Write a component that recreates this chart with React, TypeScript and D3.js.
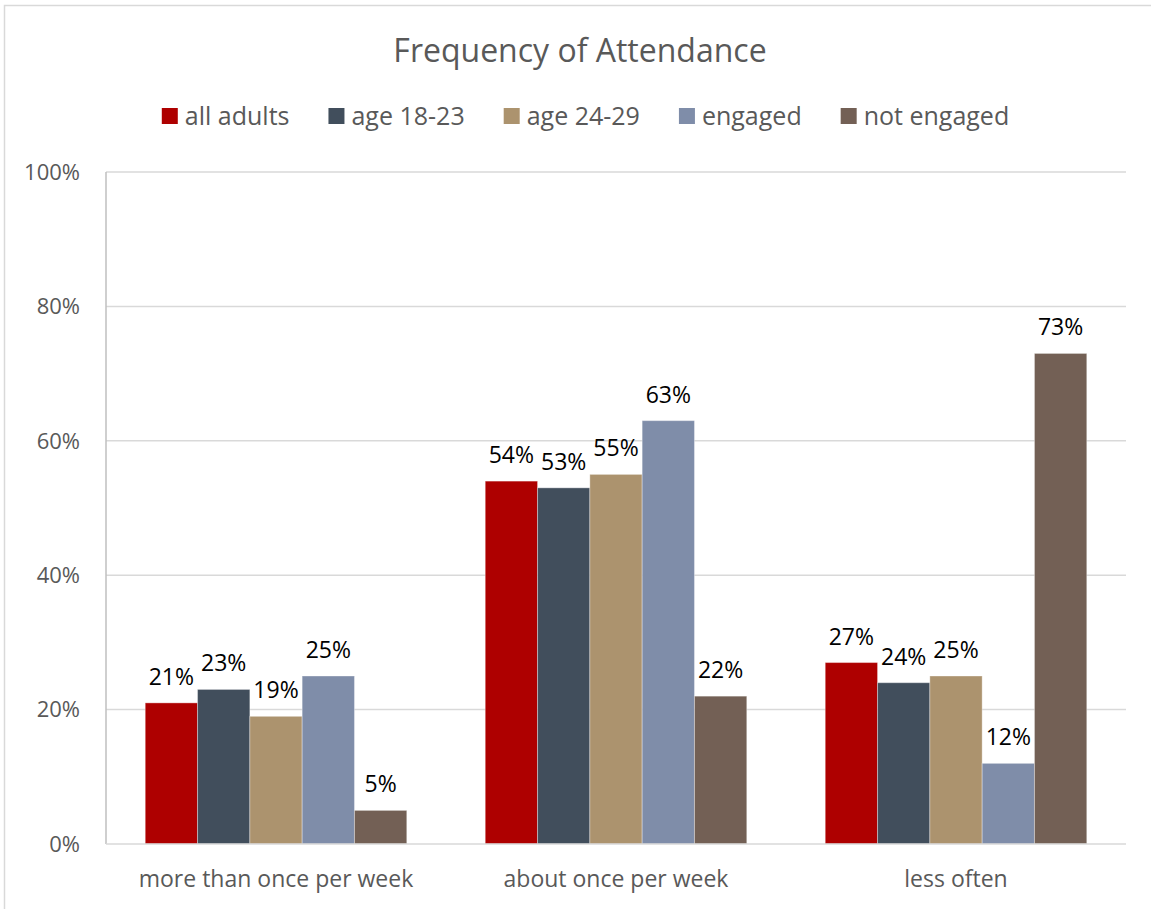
import React, { useEffect, useRef } from "react";
import * as d3 from "d3";

const categories = ["more than once per week", "about once per week", "less often"];
const seriesNames = ["all adults", "age 18-23", "age 24-29", "engaged", "not engaged"];
const seriesColors = ["#AE0000", "#414E5C", "#AC936E", "#7F8DA9", "#736055"];
const allAdults = [21, 54, 27];
const age1823 = [23, 53, 24];
const age2429 = [19, 55, 25];
const engaged = [25, 63, 12];
const notEngaged = [5, 22, 73];
const yTicks = [0, 20, 40, 60, 80, 100];
const title = "Frequency of Attendance";

const W = 1151;
const H = 909;
const FONT = "'Open Sans', 'Noto Sans', sans-serif";

export default function App() {
  const ref = useRef<SVGSVGElement | null>(null);

  useEffect(() => {
    const svg = d3.select(ref.current);
    svg.selectAll("*").remove();
    const series = [allAdults, age1823, age2429, engaged, notEngaged];

    const left = 106, right = 1126, top = 172, bottom = 844;

    svg.append("rect").attr("x", 4.5).attr("y", 5.5).attr("width", W + 20).attr("height", H + 20)
      .attr("fill", "#fff").attr("stroke", "#D9D9D9").attr("stroke-width", 1.5);

    const x0 = d3.scaleBand<string>().domain(categories).range([left, right]).paddingInner(0).paddingOuter(0);
    const groupW = x0.bandwidth();
    const barsW = groupW / (1 + 1.5 / 5); // gap width 150%
    const x1 = d3.scaleBand<string>().domain(seriesNames).range([0, barsW]);
    const y = d3.scaleLinear().domain([0, 100]).range([bottom, top]);

    // gridlines
    svg.append("g").selectAll("line").data(yTicks.filter(t => t > 0)).join("line")
      .attr("x1", left).attr("x2", right)
      .attr("y1", d => y(d)).attr("y2", d => y(d))
      .attr("stroke", "#D9D9D9").attr("stroke-width", 1.5);

    // y labels
    svg.append("g").selectAll("text").data(yTicks).join("text")
      .attr("x", 80).attr("y", d => y(d)).attr("dy", "0.35em")
      .attr("text-anchor", "end").attr("font-family", FONT).attr("font-size", 22)
      .attr("fill", "#595959").text(d => `${d}%`);

    // bars
    const gap = groupW - barsW;
    categories.forEach((c, ci) => {
      const gx = (x0(c) as number) + gap / 2;
      series.forEach((s, si) => {
        const bx = gx + (x1(seriesNames[si]) as number);
        svg.append("rect").attr("x", bx).attr("y", y(s[ci]))
          .attr("width", x1.bandwidth()).attr("height", bottom - y(s[ci]))
          .attr("fill", seriesColors[si]).attr("stroke", "#ffffff").attr("stroke-opacity", 0.35).attr("stroke-width", 1);
        svg.append("text").attr("x", bx + x1.bandwidth() / 2).attr("y", y(s[ci]) - 18)
          .attr("text-anchor", "middle").attr("font-family", FONT).attr("font-size", 23)
          .attr("fill", "#000").text(`${s[ci]}%`);
      });
    });

    // axes lines
    svg.append("line").attr("x1", left).attr("x2", left).attr("y1", top).attr("y2", bottom)
      .attr("stroke", "#BFBFBF").attr("stroke-width", 1.5);
    svg.append("line").attr("x1", left).attr("x2", right).attr("y1", bottom).attr("y2", bottom)
      .attr("stroke", "#D9D9D9").attr("stroke-width", 1.5);

    // category labels
    svg.append("g").selectAll("text").data(categories).join("text")
      .attr("x", d => (x0(d) as number) + groupW / 2).attr("y", 887)
      .attr("text-anchor", "middle").attr("font-family", FONT).attr("font-size", 23)
      .attr("fill", "#595959").text(d => d);

    // title
    svg.append("text").attr("x", 580).attr("y", 62).attr("text-anchor", "middle")
      .attr("font-family", FONT).attr("font-size", 32).attr("fill", "#595959").text(title);

    // legend
    const lg = svg.append("g");
    const items = seriesNames.map((n, i) => {
      const g = lg.append("g");
      g.append("rect").attr("x", 0).attr("y", -8).attr("width", 16).attr("height", 16).attr("fill", seriesColors[i]);
      const t = g.append("text").attr("x", 23).attr("y", 0).attr("dy", "0.35em")
        .attr("font-family", FONT).attr("font-size", 25).attr("fill", "#595959").text(n);
      const w = 23 + (t.node() as SVGTextElement).getComputedTextLength();
      return { g, w };
    });
    const spacing = 39;
    const total = d3.sum(items, d => d.w) + spacing * (items.length - 1);
    let cx = 585.5 - total / 2;
    items.forEach(it => {
      it.g.attr("transform", `translate(${cx},116)`);
      cx += it.w + spacing;
    });
  }, []);

  return (
    <svg ref={ref} width={W} height={H}
      style={{ position: "absolute", left: 0, top: 0, background: "#fff" }} />
  );
}
